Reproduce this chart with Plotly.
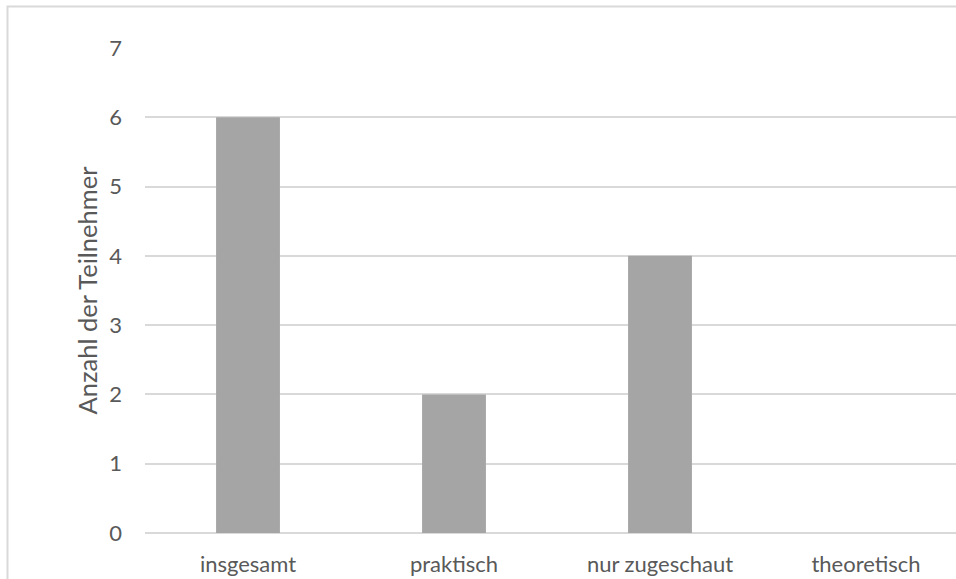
import plotly.graph_objects as go

# Teilnehmerzahlen je Kategorie
categories = ["insgesamt", "praktisch", "nur zugeschaut", "theoretisch"]
participants = [6, 2, 4, 0]
y_ticks = [0, 1, 2, 3, 4, 5, 6, 7]

W, H = 956, 579
ML, MR, MT, MB = 145, 0, 48, 46
plot_w = W - ML - MR
plot_h = H - MT - MB

label_font = dict(family="Lato, Carlito, Calibri, sans-serif", size=22, color="#595959")
grid_col = "#D9D9D9"

fig = go.Figure(
    go.Bar(
        x=categories,
        y=participants,
        marker=dict(color="#A5A5A5", line=dict(width=0)),
        width=0.31,
    )
)

# frame around the chart area (open to the right and bottom)
bx = (7.5 - ML) / plot_w
by = (H - MB - 6.5) / plot_h
fig.add_shape(
    type="rect", xref="paper", yref="paper",
    x0=bx, x1=1.2, y0=-0.3, y1=by,
    line=dict(color=grid_col, width=2), fillcolor="rgba(0,0,0,0)", layer="below",
)

fig.update_layout(
    width=W, height=H,
    margin=dict(l=ML, r=MR, t=MT, b=MB),
    paper_bgcolor="white", plot_bgcolor="white",
    showlegend=False,
    xaxis=dict(
        type="category",
        range=[-0.5, -0.5 + plot_w / 206.0],
        showgrid=False, showline=False, zeroline=False,
        ticks="", tickfont=label_font, ticklabelstandoff=16,
    ),
    yaxis=dict(
        range=[0, 7], tickvals=y_ticks,
        showgrid=True, gridcolor=grid_col, gridwidth=1.5,
        zeroline=True, zerolinecolor=grid_col, zerolinewidth=1.5,
        showline=False, ticks="", tickfont=label_font, ticklabelstandoff=22,
        title=dict(
            text="Anzahl der Teilnehmer",
            font=dict(family="Lato, Carlito, Calibri, sans-serif", size=25.5, color="#595959"),
            standoff=4,
        ),
    ),
)

fig.write_html("out.html")
